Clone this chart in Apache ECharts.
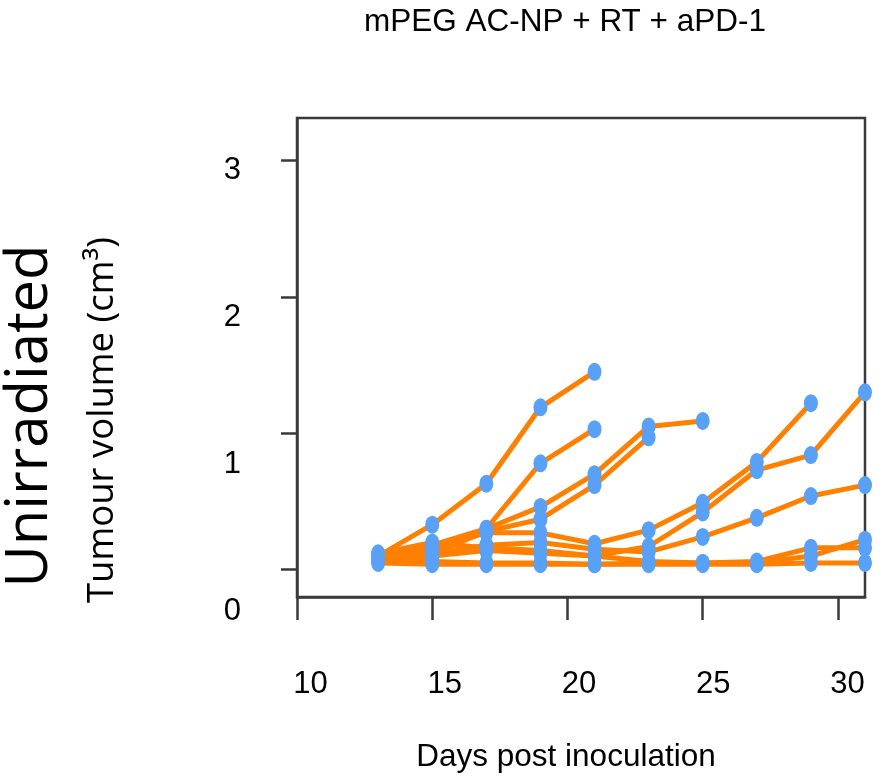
<!DOCTYPE html>
<html>
<head>
<meta charset="utf-8">
<script src="https://cdn.jsdelivr.net/npm/echarts@6/dist/echarts.min.js"></script>
<style>html,body{margin:0;padding:0;background:#fff}#c{width:881px;height:782px}</style>
</head>
<body>
<div id="c"></div>
<script>
// Days of measurement
var days = [13, 15, 17, 19, 21, 23, 25, 27, 29, 31];
// Tumour volume (cm3) per mouse
var mouseA = [0.10, 0.33, 0.63, 1.19, 1.45];
var mouseB = [0.09, 0.18, 0.30, 0.78, 1.03];
var mouseC = [0.11, 0.15, 0.30, 0.46, 0.70, 1.05, 1.09];
var mouseD = [0.08, 0.12, 0.28, 0.37, 0.62, 0.97];
var mouseE = [0.10, 0.16, 0.27, 0.27, 0.19, 0.29, 0.49, 0.79, 1.22];
var mouseF = [0.07, 0.10, 0.14, 0.12, 0.10, 0.17, 0.42, 0.73, 0.84, 1.30];
var mouseG = [0.06, 0.12, 0.18, 0.20, 0.15, 0.13, 0.24, 0.38, 0.54, 0.62];
var mouseH = [0.08, 0.06, 0.05, 0.05, 0.04, 0.05, 0.05, 0.05, 0.10, 0.22];
var mouseI = [0.12, 0.20, 0.16, 0.14, 0.10, 0.06, 0.05, 0.06, 0.16, 0.16];
var mouseJ = [0.05, 0.04, 0.04, 0.04, 0.04, 0.04, 0.04, 0.04, 0.05, 0.05];
var mice = [mouseA, mouseB, mouseC, mouseD, mouseE, mouseF, mouseG, mouseH, mouseI, mouseJ];
// Tick labels
var xTicks = [10, 15, 20, 25, 30];
var yTicks = [0, 1, 2, 3];

var titleText = 'mPEG AC-NP + RT + aPD-1';
var yName = 'Tumour volume (cm³)';
var rowName = 'Unirradiated';
var xName = 'Days post inoculation';

var ORANGE = '#FF8000';
var BLUE = '#58A1F6';
var AXIS = '#3a3a3a';

var series = [];
var allPts = [];
mice.forEach(function (vals) {
  var d = vals.map(function (v, i) { return [days[i], v]; });
  allPts = allPts.concat(d);
  series.push({
    type: 'line', xAxisIndex: 0, yAxisIndex: 0, data: d,
    showSymbol: false, lineStyle: { color: ORANGE, width: 5 }, z: 2,
    silent: true
  });
});
series.push({
  type: 'scatter', xAxisIndex: 0, yAxisIndex: 0, data: allPts,
  symbol: 'circle', symbolSize: [14, 18], itemStyle: { color: BLUE, opacity: 1 }, z: 5, silent: true
});

var chart = echarts.init(document.getElementById('c'), null, { renderer: 'canvas' });
chart.setOption({
  animation: false,
  backgroundColor: '#fff',
  textStyle: { fontFamily: 'Liberation Sans' },
  grid: [
    { left: 297, top: 118, right: 16, bottom: 185, show: true, borderColor: AXIS, borderWidth: 2.5, backgroundColor: 'transparent' },
    { left: 297, top: 118, right: 16, bottom: 142, show: false }
  ],
  xAxis: [
    { type: 'value', gridIndex: 0, min: 10, max: 31,
      axisLine: { show: true, onZero: false, lineStyle: { color: AXIS, width: 2.5 } },
      axisTick: { show: true, customValues: xTicks, length: 23, inside: false, lineStyle: { color: AXIS, width: 2.5 } },
      axisLabel: { show: false }, splitLine: { show: false } },
    { type: 'value', gridIndex: 0, position: 'bottom', min: 9.5, max: 30.65,
      axisLine: { show: false, onZero: false }, axisTick: { show: false }, splitLine: { show: false },
      axisLabel: { show: true, customValues: xTicks, margin: 72, fontSize: 31, color: '#000', fontFamily: 'Liberation Sans' } },
    { type: 'value', gridIndex: 1, min: 0, max: 1, show: false }
  ],
  yAxis: [
    { type: 'value', gridIndex: 0, min: -0.2, max: 3.31,
      axisLine: { show: true, onZero: false, lineStyle: { color: AXIS, width: 2.5 } },
      axisTick: { show: true, customValues: yTicks, length: 16, lineStyle: { color: AXIS, width: 2.5 } },
      axisLabel: { show: false }, splitLine: { show: false } },
    { type: 'value', gridIndex: 1, min: -0.194, max: 3.357,
      axisLine: { show: false, onZero: false }, axisTick: { show: false }, splitLine: { show: false },
      axisLabel: { show: true, customValues: yTicks, margin: 56, fontSize: 31, color: '#000', fontFamily: 'Liberation Sans' } }
  ],
  series: series,
  graphic: [
    { type: 'text', x: 565, y: 22, style: { text: titleText, font: '31.5px "Liberation Sans"', fill: '#000', textAlign: 'center', textVerticalAlign: 'middle' } },
    { type: 'text', x: 566, y: 757, style: { text: xName, font: '31.5px "Liberation Sans"', fill: '#000', textAlign: 'center', textVerticalAlign: 'middle' } },
    { type: 'text', x: 103, y: 420, rotation: Math.PI / 2, style: { text: yName, font: '36.5px "Open Sans"', fill: '#000', textAlign: 'center', textVerticalAlign: 'middle' } },
    { type: 'text', x: 30, y: 416, rotation: Math.PI / 2, style: { text: rowName, font: '58px "Open Sans"', fill: '#000', textAlign: 'center', textVerticalAlign: 'middle' } }
  ]
});
</script>
</body>
</html>
